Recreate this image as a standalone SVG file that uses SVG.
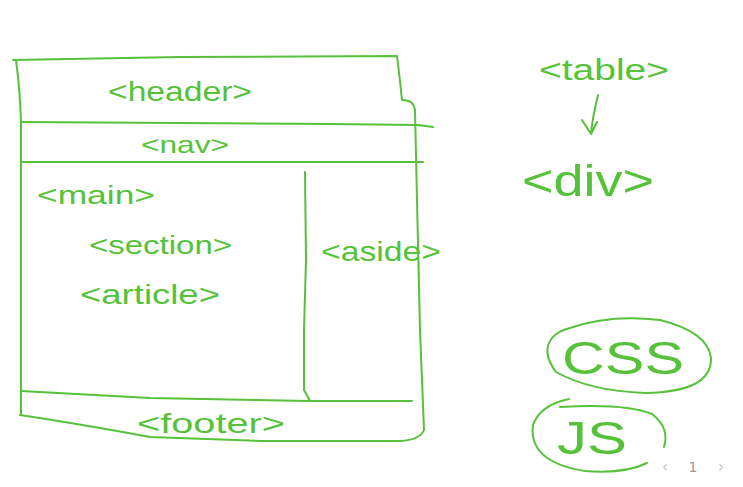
<svg xmlns="http://www.w3.org/2000/svg" width="743" height="487" viewBox="0 0 743 487">
<style>
.s{fill:none;stroke:#55c23a;stroke-width:2;stroke-linecap:round;stroke-linejoin:round}
.t{fill:#55c23a;font-family:"Liberation Sans",Arial,sans-serif}
.p{fill:#c4c4c4;font-family:"DejaVu Sans",sans-serif;font-size:15px}
</style>
<rect width="743" height="487" fill="#fff"/>
<g id="connectors">
<path class="s" d="M13,60 L180,57 L397,56 Q400,80 402,100 Q414,100 415,110 L417,200 L420,330 L424,430 Q420,440 400,441 L260,441 L150,437 Q80,424 20,415"/>
<path class="s" d="M16,60 Q20,90 21,122 L21,300 L21,415"/>
<path class="s" d="M21,122 L330,124 L418,125 L433,127"/>
<path class="s" d="M21,162 L423,162"/>
<path class="s" d="M305,172 L306,260 L304,330 L304,390 L310,401"/>
<path class="s" d="M21,391 L150,398 L310,401 L412,401"/>
<path class="s" d="M598,95 Q593,115 591,133 M582,120 L591,134 L597,122"/>
<path class="s" d="M570,328 Q610,314 660,320 Q708,332 711,358 Q712,392 645,393 Q590,391 556,372 Q541,352 552,338 Q558,331 570,328 Z"/>
<path class="s" d="M569,399 Q540,405 533,425 Q528,462 585,471 Q625,474 647,463 M560,407 Q625,403 652,414 Q670,428 664,447"/>
</g>
<g id="header"><text class="t" x="108" y="101" font-size="28" textLength="144" lengthAdjust="spacingAndGlyphs">&lt;header&gt;</text></g>
<g id="nav"><text class="t" x="141" y="153" font-size="24" textLength="88" lengthAdjust="spacingAndGlyphs">&lt;nav&gt;</text></g>
<g id="main"><text class="t" x="37" y="204" font-size="26" textLength="118" lengthAdjust="spacingAndGlyphs">&lt;main&gt;</text></g>
<g id="section"><text class="t" x="89" y="254" font-size="26" textLength="143" lengthAdjust="spacingAndGlyphs">&lt;section&gt;</text></g>
<g id="article"><text class="t" x="80" y="304" font-size="28" textLength="140" lengthAdjust="spacingAndGlyphs">&lt;article&gt;</text></g>
<g id="aside"><text class="t" x="321" y="261" font-size="28" textLength="120" lengthAdjust="spacingAndGlyphs">&lt;aside&gt;</text></g>
<g id="footer"><text class="t" x="137" y="433" font-size="28" textLength="148" lengthAdjust="spacingAndGlyphs">&lt;footer&gt;</text></g>
<g id="table"><text class="t" x="539" y="80" font-size="30" textLength="130" lengthAdjust="spacingAndGlyphs">&lt;table&gt;</text></g>
<g id="div"><text class="t" x="522" y="196" font-size="44" textLength="132" lengthAdjust="spacingAndGlyphs">&lt;div&gt;</text></g>
<g id="css"><text class="t" x="562" y="374" font-size="46" textLength="122" lengthAdjust="spacingAndGlyphs">CSS</text></g>
<g id="js"><text class="t" x="557" y="454" font-size="46" textLength="70" lengthAdjust="spacingAndGlyphs">JS</text></g>
<g id="pager">
<text class="p" x="665" y="472" text-anchor="middle">‹</text>
<text class="p" x="693" y="472" text-anchor="middle" style="fill:#9a9a9a;font-size:14px">1</text>
<text class="p" x="721" y="472" text-anchor="middle">›</text>
</g>
</svg>
